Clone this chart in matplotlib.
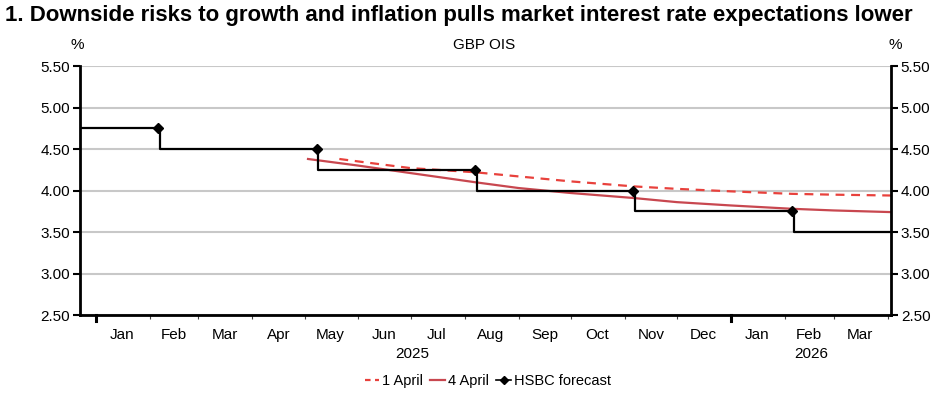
import matplotlib
matplotlib.use("Agg")
from matplotlib import pyplot as plt
from matplotlib.lines import Line2D
import matplotlib.dates as mdates
import matplotlib.transforms as mtrans
import datetime as dt

plt.rcParams['font.family'] = ['Liberation Sans', 'DejaVu Sans']

# HSBC forecast of Bank Rate: level held before each cut, cut dates
cut_dates = ['2025-02-06', '2025-05-08', '2025-08-07', '2025-11-06', '2026-02-05']
hsbc_levels = [4.75, 4.50, 4.25, 4.00, 3.75, 3.50]

# GBP OIS implied path, 1 April
apr1_dates = ['2025-05-21', '2025-06-01', '2025-07-01', '2025-08-07', '2025-09-01', '2025-10-01',
              '2025-11-06', '2025-12-01', '2026-01-01', '2026-02-05', '2026-03-01', '2026-04-03']
apr1_vals = [4.38, 4.35, 4.27, 4.22, 4.17, 4.11, 4.05, 4.02, 3.99, 3.96, 3.95, 3.94]

# GBP OIS implied path, 4 April
apr4_dates = ['2025-05-03', '2025-06-01', '2025-07-01', '2025-08-07', '2025-09-01', '2025-10-01',
              '2025-11-06', '2025-12-01', '2026-01-01', '2026-02-05', '2026-03-01', '2026-04-03']
apr4_vals = [4.38, 4.30, 4.21, 4.10, 4.03, 3.97, 3.91, 3.86, 3.82, 3.78, 3.76, 3.74]

months = ['Jan', 'Feb', 'Mar', 'Apr', 'May', 'Jun', 'Jul', 'Aug', 'Sep', 'Oct', 'Nov', 'Dec']
y_ticks = [2.50, 3.00, 3.50, 4.00, 4.50, 5.00, 5.50]

x_start = dt.date(2024, 12, 23)
x_end = dt.date(2026, 4, 3)

def to_dates(lst):
    return [dt.date.fromisoformat(s) for s in lst]

fig = plt.figure(figsize=(9.47, 3.99), dpi=100)
ax = fig.add_axes([0.0845, 0.2105, 0.8564, 0.624])

# grid
for v in y_ticks:
    ax.axhline(v, color='#c8c8c8', lw=1.5, zorder=0)

# OIS curves
ax.plot(to_dates(apr1_dates), apr1_vals, color='#e8413c', lw=1.6, ls=(0, (4, 3)), zorder=2)
ax.plot(to_dates(apr4_dates), apr4_vals, color='#c8474f', lw=1.6, zorder=2)

# HSBC step path
cuts = to_dates(cut_dates)
step_x = [x_start] + [d + dt.timedelta(days=1) for d in cuts] + [x_end]
step_y = hsbc_levels + [hsbc_levels[-1]]
ax.plot(step_x, step_y, color='black', lw=1.6, drawstyle='steps-post', zorder=3)
ax.plot(cuts, hsbc_levels[:-1], ls='none', marker='D', ms=5, color='black', zorder=4)

ax.set_xlim(x_start, x_end)
ax.set_ylim(2.5, 5.5)

# axes styling
for s in ['left', 'right', 'bottom']:
    ax.spines[s].set_linewidth(2)
    ax.spines[s].set_color('black')
ax.spines['top'].set_visible(False)

ax.set_yticks(y_ticks)
ax.set_yticklabels(['%.2f' % v for v in y_ticks])
ax.tick_params(axis='y', which='major', left=True, right=True, labelleft=True, labelright=True,
               direction='out', length=5, width=1.5, labelsize=11, pad=2)

# month boundary ticks, labels at mid-month
month_starts = [dt.date(2025 + (m // 12), m % 12 + 1, 1) for m in range(16)]
ax.xaxis.set_major_locator(mdates.MonthLocator())
ax.xaxis.set_major_formatter(plt.NullFormatter())
ax.tick_params(axis='x', which='major', direction='out', length=3, width=0.8, color='#444444')
mids = [month_starts[i] + (month_starts[i + 1] - month_starts[i]) / 2 for i in range(15)]
ax.set_xticks(mdates.date2num(mids), minor=True)
ax.set_xticklabels([months[d.month - 1] for d in mids], minor=True)
ax.tick_params(axis='x', which='minor', length=0, labelsize=11, pad=9)

# year boundary ticks (thicker)
trans = mtrans.blended_transform_factory(ax.transData, ax.transAxes)
for yr in [2025, 2026]:
    ax.plot([dt.date(yr, 1, 1)] * 2, [0, -0.025], transform=trans, color='black', lw=2.2, clip_on=False)
ax.text(dt.date(2025, 7, 2), -0.13, '2025', transform=trans, ha='center', va='top', fontsize=11)
ax.text(dt.date(2026, 2, 16), -0.13, '2026', transform=trans, ha='center', va='top', fontsize=11)

# titles and units
fig.text(0.005, 0.962, '1. Downside risks to growth and inflation pulls market interest rate expectations lower',
         fontsize=16, fontweight='bold', ha='left', va='center')
fig.text(0.082, 0.887, '%', fontsize=11, ha='center', va='center')
fig.text(0.945, 0.887, '%', fontsize=11, ha='center', va='center')
fig.text(0.511, 0.887, 'GBP OIS', fontsize=11, ha='center', va='center')

handles = [Line2D([], [], color='#e8413c', lw=1.6, ls=(0, (2.5, 2))),
           Line2D([], [], color='#c8474f', lw=1.6),
           Line2D([], [], color='black', lw=1.2, marker='D', ms=4)]
fig.legend(handles, ['1 April', '4 April', 'HSBC forecast'], loc='center', bbox_to_anchor=(0.515, 0.045),
           ncol=3, frameon=False, fontsize=10.5, handlelength=1.0, handletextpad=0.2, columnspacing=0.5)

fig.savefig('out.png', dpi=100)
